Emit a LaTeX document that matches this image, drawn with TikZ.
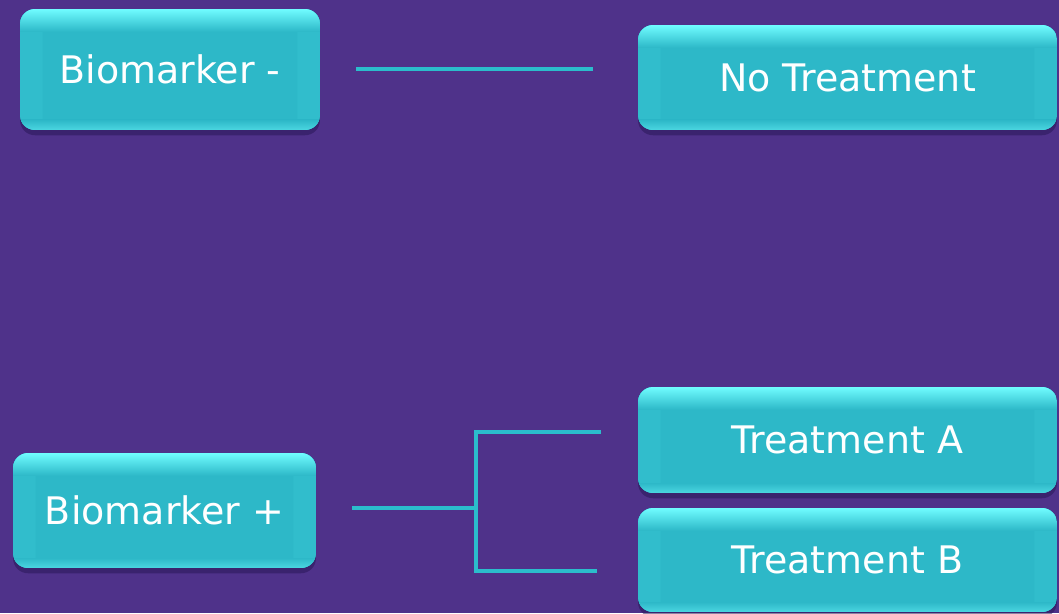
\documentclass[tikz,border=0pt]{standalone}
\usepackage{fontspec}
\setmainfont{DejaVu Sans}
\usetikzlibrary{shadows,calc}

\definecolor{bgpurple}{HTML}{4F328A}
\definecolor{boxcyan}{HTML}{2DB8C8}
\definecolor{boxside}{HTML}{31BDCC}
\definecolor{boxlight}{HTML}{70FCFF}
\definecolor{linecyan}{HTML}{2BBDCC}
\definecolor{shadowpurple}{HTML}{2A1758}

\tikzset{
  choice/.style={rounded corners=0.3cm, fill=boxcyan, text=white, inner sep=0pt,
    font=\fontsize{21.6}{26}\selectfont,
    drop shadow={shadow xshift=0pt, shadow yshift=-3pt, opacity=0.55, fill=shadowpurple},
    path picture={
      \path (path picture bounding box.north west) coordinate (nw)
            (path picture bounding box.south east) coordinate (se);
      % side facets
      \fill[boxside, sharp corners] (nw) -- ($(nw)+(0.45cm,-0.45cm)$) -- ($(nw|-se)+(0.45cm,0.2cm)$) -- (nw|-se) -- cycle;
      \fill[boxside, sharp corners] (se|-nw) -- ($(se|-nw)+(-0.45cm,-0.45cm)$) -- ($(se)+(-0.45cm,0.2cm)$) -- (se) -- cycle;
      % bottom edge
      \fill[sharp corners, bottom color=boxlight!45!boxcyan, top color=boxcyan] ($(nw|-se)+(0,0.2cm)$) rectangle (se);
      % top bevel
      \fill[sharp corners, top color=boxlight, bottom color=boxcyan] (nw) rectangle ($(se|-nw)+(0,-0.45cm)$);
    }},
  branch/.style={draw=linecyan, line width=2.8pt}
}

\begin{document}
\begin{tikzpicture}[x=0.02cm, y=-0.02cm]
% Background, fixes the size of the page
\fill[bgpurple] (0,0) rectangle (1059,613);
\useasboundingbox (0,0) rectangle (1059,613);

% Boxes on the left
\node[choice, minimum width=6cm, minimum height=2.42cm] (bneg) at (170,69.5) {Biomarker -};
\node[choice, minimum width=6.06cm, minimum height=2.3cm] (bpos) at (164.5,510.5) {Biomarker +};

% Boxes on the right
\node[choice, minimum width=8.38cm, minimum height=2.1cm] (notreat) at (847.5,77.5) {No Treatment};
\node[choice, minimum width=8.38cm, minimum height=2.12cm] (treatA) at (847.5,440) {Treatment A};
\node[choice, minimum width=8.38cm, minimum height=2.08cm] (treatB) at (847.5,560) {Treatment B};

% Connectors
\coordinate (negL) at (356,69);
\coordinate (negR) at (593,69);
\draw[branch] (negL) -- (negR);

\coordinate (posL) at (352,508);
\coordinate (fork) at (476,508);
\coordinate (upR) at (601,432);
\coordinate (downR) at (597,571);
\draw[branch] (posL) -- (fork);
\draw[branch] (upR) -- (fork|-upR) -- (fork|-downR) -- (downR);
\end{tikzpicture}
\end{document}
